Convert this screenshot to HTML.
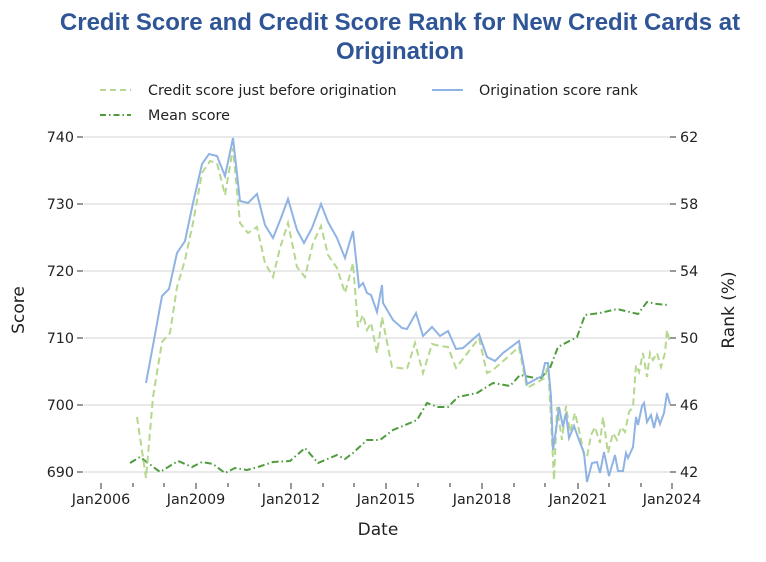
<!DOCTYPE html>
<html><head><meta charset="utf-8"><style>
body{margin:0;background:#fff;width:766px;height:562px;overflow:hidden}
svg{display:block}
text{font-family:"DejaVu Sans","Liberation Sans",sans-serif;fill:#222}
</style></head><body>
<svg width="766" height="562" viewBox="0 0 766 562">
<text x="400" y="30" text-anchor="middle" style="font-family:'Liberation Sans',sans-serif;font-weight:bold;font-size:24px;fill:#2f5597">Credit Score and Credit Score Rank for New Credit Cards at</text>
<text x="400" y="59" text-anchor="middle" style="font-family:'Liberation Sans',sans-serif;font-weight:bold;font-size:24px;fill:#2f5597">Origination</text>
<g font-size="14.3">
<line x1="100" y1="90" x2="131" y2="90" stroke="#b5d78e" stroke-width="2" stroke-dasharray="6,4"/>
<text x="148" y="95">Credit score just before origination</text>
<line x1="432" y1="90" x2="463" y2="90" stroke="#8fb3e3" stroke-width="2"/>
<text x="479" y="95">Origination score rank</text>
<line x1="100" y1="115" x2="131" y2="115" stroke="#4e9c3e" stroke-width="2" stroke-dasharray="6,3,1.5,3"/>
<text x="148" y="120">Mean score</text>
</g>
<g stroke="#dcdcdc" stroke-width="1.2">
<line x1="84" y1="137" x2="670" y2="137"/><line x1="84" y1="204" x2="670" y2="204"/>
<line x1="84" y1="271" x2="670" y2="271"/><line x1="84" y1="338" x2="670" y2="338"/>
<line x1="84" y1="405" x2="670" y2="405"/><line x1="84" y1="472" x2="670" y2="472"/>
</g>
<g stroke="#333" stroke-width="1">
<line x1="77" y1="137" x2="83" y2="137"/><line x1="77" y1="204" x2="83" y2="204"/><line x1="77" y1="271" x2="83" y2="271"/><line x1="77" y1="338" x2="83" y2="338"/><line x1="77" y1="405" x2="83" y2="405"/><line x1="77" y1="472" x2="83" y2="472"/>
<line x1="670" y1="137" x2="676" y2="137"/><line x1="670" y1="204" x2="676" y2="204"/><line x1="670" y1="271" x2="676" y2="271"/><line x1="670" y1="338" x2="676" y2="338"/><line x1="670" y1="405" x2="676" y2="405"/><line x1="670" y1="472" x2="676" y2="472"/>
<line x1="101" y1="483" x2="101" y2="489"/><line x1="133" y1="483" x2="133" y2="487"/><line x1="164" y1="483" x2="164" y2="487"/><line x1="196" y1="483" x2="196" y2="489"/><line x1="228" y1="483" x2="228" y2="487"/><line x1="259" y1="483" x2="259" y2="487"/><line x1="291" y1="483" x2="291" y2="489"/><line x1="323" y1="483" x2="323" y2="487"/><line x1="354" y1="483" x2="354" y2="487"/><line x1="386" y1="483" x2="386" y2="489"/><line x1="418" y1="483" x2="418" y2="487"/><line x1="450" y1="483" x2="450" y2="487"/><line x1="482" y1="483" x2="482" y2="489"/><line x1="514" y1="483" x2="514" y2="487"/><line x1="545" y1="483" x2="545" y2="487"/><line x1="578" y1="483" x2="578" y2="489"/><line x1="609" y1="483" x2="609" y2="487"/><line x1="641" y1="483" x2="641" y2="487"/><line x1="672" y1="483" x2="672" y2="489"/>
</g>
<g font-size="14.3">
<text x="74" y="142" text-anchor="end">740</text><text x="74" y="209" text-anchor="end">730</text><text x="74" y="276" text-anchor="end">720</text><text x="74" y="343" text-anchor="end">710</text><text x="74" y="410" text-anchor="end">700</text><text x="74" y="477" text-anchor="end">690</text>
<text x="680" y="142">62</text><text x="680" y="209">58</text><text x="680" y="276">54</text><text x="680" y="343">50</text><text x="680" y="410">46</text><text x="680" y="477">42</text>
<text x="101" y="504" text-anchor="middle">Jan2006</text><text x="196" y="504" text-anchor="middle">Jan2009</text><text x="291" y="504" text-anchor="middle">Jan2012</text><text x="386" y="504" text-anchor="middle">Jan2015</text><text x="482" y="504" text-anchor="middle">Jan2018</text><text x="578" y="504" text-anchor="middle">Jan2021</text><text x="672" y="504" text-anchor="middle">Jan2024</text>
</g>
<text x="378" y="535" text-anchor="middle" font-size="17">Date</text>
<text transform="translate(24,310) rotate(-90)" text-anchor="middle" font-size="17">Score</text>
<text transform="translate(734,310) rotate(-90)" text-anchor="middle" font-size="17">Rank (%)</text>
<polyline fill="none" stroke="#4e9c3e" stroke-width="2" stroke-dasharray="7,3,1.5,3" points="130,463 140,457 148,463 160,472 178,461 192,467 202,462 213,464 225,473 235,468 247,470 258,467 273,462 290,461 305,448 318,463 337,455 345,459 353,453 367,440 380,440 393,430 410,423 417,420 427,403 438,407 448,407 458,397 477,393 493,383 510,386 520,375 540,379 550,368 558,347 577,337 585,315 600,313 617,309 638,314 647,302 657,304 668,305"/>
<polyline fill="none" stroke="#b5d78e" stroke-width="2" stroke-dasharray="7,4" points="137,417 146,478 153,397 162,342 170,333 177,287 185,260 193,223 202,173 210,161 217,163 225,195 233,148 240,223 248,233 257,227 265,263 273,277 280,248 288,223 297,267 305,277 313,243 321,226 328,255 337,268 345,293 353,263 358,327 363,315 367,330 371,323 377,353 380,333 382,317 392,367 407,369 415,343 423,373 432,344 440,346 448,347 456,368 479,338 487,373 493,370 519,347 527,388 545,378 548,363 551,420 554,480 557,407 562,440 566,406 570,432 575,413 579,430 584,455 587,457 591,435 595,427 600,443 603,417 608,453 613,433 617,440 621,427 625,432 629,412 633,407 636,365 639,372 643,353 647,377 650,353 653,360 657,353 661,367 665,353 667,330 670,343"/>
<polyline fill="none" stroke="#8fb3e3" stroke-width="2" points="146,383 154,340 162,296 169,289 177,253 185,241 193,203 202,164 209,154 217,156 225,176 233,138 240,201 248,203 257,194 265,225 273,238 281,218 288,199 297,230 304,243 312,228 321,204 328,222 337,238 345,258 353,231 359,287 363,283 367,293 371,295 377,312 382,285 383,303 393,320 402,328 407,329 416,313 423,336 432,327 440,336 448,331 456,349 463,348 479,334 487,357 495,361 503,353 519,341 527,384 542,376 545,363 548,363 551,397 553,450 556,430 559,407 563,427 566,413 569,438 574,426 579,440 584,453 587,482 592,463 597,462 600,473 604,452 609,476 615,455 618,471 623,471 626,453 628,458 633,447 636,417 638,425 642,406 644,403 647,422 651,415 654,428 657,415 660,424 664,413 667,393 670,404"/>
</svg>
</body></html>
